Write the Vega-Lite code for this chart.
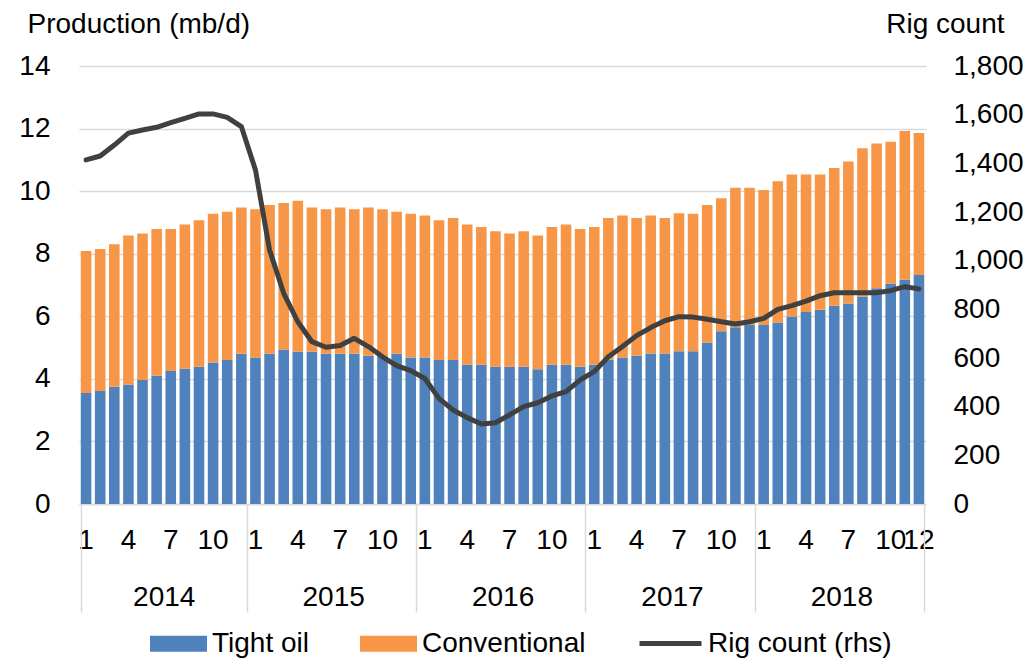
{
  "$schema": "https://vega.github.io/schema/vega-lite/v6.json",
  "width": 847,
  "height": 438,
  "autosize": {"type": "none"},
  "padding": {"left": 79, "top": 66, "right": 105, "bottom": 157},
  "config": {"font": "Liberation Sans", "view": {"stroke": null}},
  "data": {"values": [
    {"i":0,"Tight oil":3.55,"Conventional":4.54,"rig":1414},
    {"i":1,"Tight oil":3.61,"Conventional":4.54,"rig":1430},
    {"i":2,"Tight oil":3.75,"Conventional":4.55,"rig":1475},
    {"i":3,"Tight oil":3.82,"Conventional":4.76,"rig":1524},
    {"i":4,"Tight oil":3.96,"Conventional":4.69,"rig":1537},
    {"i":5,"Tight oil":4.10,"Conventional":4.69,"rig":1548},
    {"i":6,"Tight oil":4.25,"Conventional":4.54,"rig":1567},
    {"i":7,"Tight oil":4.32,"Conventional":4.61,"rig":1585},
    {"i":8,"Tight oil":4.39,"Conventional":4.68,"rig":1603},
    {"i":9,"Tight oil":4.52,"Conventional":4.76,"rig":1603},
    {"i":10,"Tight oil":4.60,"Conventional":4.74,"rig":1589},
    {"i":11,"Tight oil":4.80,"Conventional":4.68,"rig":1551},
    {"i":12,"Tight oil":4.68,"Conventional":4.74,"rig":1373},
    {"i":13,"Tight oil":4.80,"Conventional":4.76,"rig":1044},
    {"i":14,"Tight oil":4.94,"Conventional":4.68,"rig":866},
    {"i":15,"Tight oil":4.87,"Conventional":4.82,"rig":749},
    {"i":16,"Tight oil":4.87,"Conventional":4.61,"rig":667},
    {"i":17,"Tight oil":4.80,"Conventional":4.62,"rig":644},
    {"i":18,"Tight oil":4.80,"Conventional":4.68,"rig":651},
    {"i":19,"Tight oil":4.80,"Conventional":4.62,"rig":681},
    {"i":20,"Tight oil":4.74,"Conventional":4.74,"rig":647},
    {"i":21,"Tight oil":4.72,"Conventional":4.70,"rig":605},
    {"i":22,"Tight oil":4.80,"Conventional":4.54,"rig":569},
    {"i":23,"Tight oil":4.68,"Conventional":4.60,"rig":548},
    {"i":24,"Tight oil":4.68,"Conventional":4.54,"rig":516},
    {"i":25,"Tight oil":4.60,"Conventional":4.47,"rig":434},
    {"i":26,"Tight oil":4.60,"Conventional":4.54,"rig":386},
    {"i":27,"Tight oil":4.45,"Conventional":4.48,"rig":355},
    {"i":28,"Tight oil":4.45,"Conventional":4.40,"rig":329},
    {"i":29,"Tight oil":4.39,"Conventional":4.33,"rig":334},
    {"i":30,"Tight oil":4.39,"Conventional":4.26,"rig":366},
    {"i":31,"Tight oil":4.39,"Conventional":4.33,"rig":400},
    {"i":32,"Tight oil":4.31,"Conventional":4.27,"rig":416},
    {"i":33,"Tight oil":4.45,"Conventional":4.40,"rig":444},
    {"i":34,"Tight oil":4.45,"Conventional":4.48,"rig":462},
    {"i":35,"Tight oil":4.39,"Conventional":4.40,"rig":510},
    {"i":36,"Tight oil":4.45,"Conventional":4.40,"rig":544},
    {"i":37,"Tight oil":4.62,"Conventional":4.52,"rig":605},
    {"i":38,"Tight oil":4.68,"Conventional":4.54,"rig":647},
    {"i":39,"Tight oil":4.74,"Conventional":4.40,"rig":692},
    {"i":40,"Tight oil":4.81,"Conventional":4.41,"rig":725},
    {"i":41,"Tight oil":4.81,"Conventional":4.33,"rig":753},
    {"i":42,"Tight oil":4.88,"Conventional":4.41,"rig":770},
    {"i":43,"Tight oil":4.88,"Conventional":4.40,"rig":768},
    {"i":44,"Tight oil":5.16,"Conventional":4.40,"rig":759},
    {"i":45,"Tight oil":5.52,"Conventional":4.25,"rig":749},
    {"i":46,"Tight oil":5.65,"Conventional":4.46,"rig":740},
    {"i":47,"Tight oil":5.72,"Conventional":4.39,"rig":749},
    {"i":48,"Tight oil":5.72,"Conventional":4.32,"rig":763},
    {"i":49,"Tight oil":5.80,"Conventional":4.52,"rig":800},
    {"i":50,"Tight oil":5.99,"Conventional":4.54,"rig":815},
    {"i":51,"Tight oil":6.14,"Conventional":4.39,"rig":834},
    {"i":52,"Tight oil":6.21,"Conventional":4.32,"rig":856},
    {"i":53,"Tight oil":6.34,"Conventional":4.40,"rig":868},
    {"i":54,"Tight oil":6.41,"Conventional":4.54,"rig":868},
    {"i":55,"Tight oil":6.63,"Conventional":4.74,"rig":868},
    {"i":56,"Tight oil":6.90,"Conventional":4.62,"rig":868},
    {"i":57,"Tight oil":7.04,"Conventional":4.54,"rig":877},
    {"i":58,"Tight oil":7.17,"Conventional":4.75,"rig":893},
    {"i":59,"Tight oil":7.32,"Conventional":4.54,"rig":884}
  ]},
  "layer": [
    {
      "transform": [{"fold": ["Tight oil", "Conventional"], "as": ["key", "value"]}],
      "mark": {"type": "bar"},
      "encoding": {
        "x": {
          "field": "i", "type": "ordinal",
          "scale": {"paddingInner": 0.25, "paddingOuter": 0.125},
          "axis": {
            "orient": "bottom",
            "title": null, "labelAngle": 0, "labelOverlap": false,
            "labelExpr": "datum.value % 3 == 0 ? '' + (datum.value % 12 + 1) : (datum.value == 59 ? '12' : '')",
            "ticks": false, "domain": true, "domainColor": "#D9D9D9", "domainWidth": 1.5,
            "labelFontSize": 28, "labelColor": "#000000", "labelPadding": 22, "grid": false
          }
        },
        "y": {
          "field": "value", "type": "quantitative", "stack": "zero",
          "scale": {"domain": [0, 14]},
          "axis": {
            "title": "Production (mb/d)", "titleAngle": 0, "titleAlign": "left", "titleBaseline": "middle",
            "titleX": -52, "titleY": -42, "titleFontSize": 28, "titleFontWeight": "normal", "titleColor": "#000000",
            "values": [0, 2, 4, 6, 8, 10, 12, 14], "format": "d",
            "grid": true, "gridColor": "#D9D9D9", "gridWidth": 1.5,
            "domain": false, "ticks": false,
            "labelFontSize": 28, "labelColor": "#000000", "labelPadding": 29
          }
        },
        "color": {
          "field": "key", "type": "nominal",
          "scale": {"domain": ["Tight oil", "Conventional"], "range": ["#4F81BD", "#F79646"]},
          "legend": {
            "title": null, "orient": "none", "legendX": 71, "legendY": 549, "direction": "horizontal",
            "symbolType": "M-1,-0.28L1,-0.28L1,0.28L-1,0.28Z", "symbolSize": 3249, "symbolStrokeWidth": 0,
            "symbolOpacity": 1, "labelFontSize": 28, "labelColor": "#000000", "labelOffset": 5,
            "columnPadding": 50, "labelLimit": 400
          }
        },
        "order": {"field": "key", "sort": "descending"}
      }
    },
    {
      "mark": {"type": "line", "strokeWidth": 5, "strokeCap": "round", "strokeJoin": "round"},
      "encoding": {
        "x": {
          "field": "i", "type": "ordinal",
          "scale": {"paddingInner": 0.25, "paddingOuter": 0.125},
          "axis": {
            "orient": "bottom",
            "title": null, "labelAngle": 0, "labelOverlap": false,
            "labelExpr": "datum.value % 12 == 6 ? '' + (2014 + floor(datum.value / 12)) : ''",
            "labelOffset": -7,
            "tickBand": "extent", "ticks": true, "tickSize": 108, "tickColor": "#D9D9D9", "tickWidth": 1.5,
            "tickOpacity": {"condition": {"test": "datum.extra || datum.value % 12 == 11", "value": 1}, "value": 0},
            "domain": false, "grid": false,
            "labelFontSize": 28, "labelColor": "#000000", "labelPadding": -29
          }
        },
        "y": {
          "field": "rig", "type": "quantitative",
          "scale": {"domain": [0, 1800]},
          "axis": {
            "orient": "right",
            "title": "Rig count", "titleAngle": 0, "titleAlign": "right", "titleBaseline": "middle",
            "titleX": 78, "titleY": -42, "titleFontSize": 28, "titleFontWeight": "normal", "titleColor": "#000000",
            "values": [0, 200, 400, 600, 800, 1000, 1200, 1400, 1600, 1800], "format": ",d",
            "grid": false, "domain": false, "ticks": false,
            "labelFontSize": 28, "labelColor": "#000000", "labelPadding": 27
          }
        },
        "stroke": {
          "datum": "Rig count (rhs)", "type": "nominal",
          "scale": {"range": ["#404040"]},
          "legend": {
            "title": null, "orient": "none", "legendX": 558, "legendY": 544,
            "symbolType": "stroke", "symbolSize": 3844, "symbolStrokeWidth": 5,
            "labelFontSize": 28, "labelColor": "#000000", "labelOffset": 4, "labelLimit": 400
          }
        }
      }
    }
  ],
  "resolve": {"scale": {"y": "independent"}, "axis": {"x": "independent", "y": "independent"}}
}
